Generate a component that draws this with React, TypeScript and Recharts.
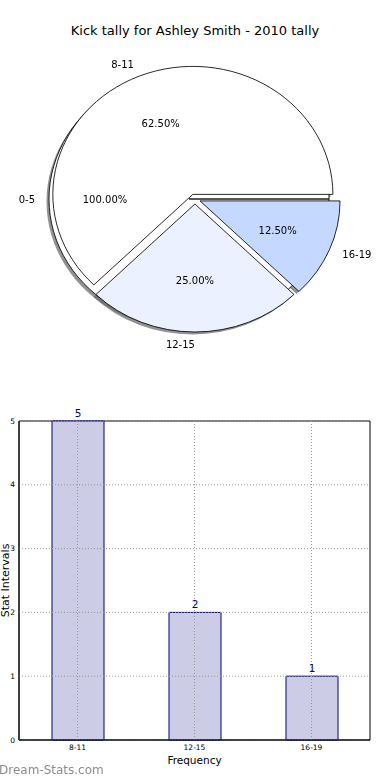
import {
  Bar,
  BarChart,
  Cell,
  LabelList,
  Pie,
  PieChart,
  ReferenceArea,
  ReferenceLine,
  XAxis,
  YAxis,
} from "recharts";

// pie: the three counted bands, plus the 0-5 band drawn as its own full pie
const pieBands = ["8-11", "12-15", "16-19"];
const pieCounts = [5, 2, 1];
const pieColors = ["#ffffff", "#ebf1fe", "#c5d8ff"];
const fullBand = ["0-5"];
const fullCounts = [1];

// bars
const barBands = ["8-11", "12-15", "16-19"];
const barCounts = [5, 2, 1];
const yTicks = [0, 1, 2, 3, 4, 5];

const SX = 1.094; // the pie in the source is a bit wider than tall
const PIE_R = 128;
const BASE_X = 178.2;
const BASE_Y = 199;
const EXPLODE = 5;
const SHADOW = 2.5;
const RAD = Math.PI / 180;

const pieData = pieBands.map((name, i) => ({ name, value: pieCounts[i] }));
const fullData = fullBand.map((name, i) => ({ name, value: fullCounts[i] }));
const barRows = barBands.map((band, i) => ({ band, count: barCounts[i] }));

const total = pieCounts.reduce((a, b) => a + b, 0);

const sliceCenter = (i: number) => {
  const before = pieCounts.slice(0, i).reduce((a, b) => a + b, 0);
  const mid = ((before + pieCounts[i] / 2) / total) * 360 * RAD;
  return {
    cx: BASE_X + EXPLODE * Math.cos(mid),
    cy: BASE_Y - EXPLODE * Math.sin(mid),
  };
};

const flat = (x: number) =>
  `translate(${x} 0) scale(${1 / SX} 1) translate(${-x} 0)`;

const sliceLabel = (only: number | null) => (p: any) => {
  if (only !== null && p.index !== only) return null;
  const a = -p.midAngle * RAD;
  const cos = Math.cos(a);
  const sin = Math.sin(a);
  const lx = p.cx + p.outerRadius * 1.1 * cos;
  const ly = p.cy + p.outerRadius * 1.1 * sin;
  const px = p.cx + p.outerRadius * 0.6 * cos;
  const py = p.cy + p.outerRadius * 0.6 * sin;
  return (
    <g key={`lbl-${p.index}`}>
      <text
        x={lx}
        y={ly}
        transform={flat(lx)}
        textAnchor={cos < 0 ? "end" : "start"}
        dominantBaseline="central"
        fontSize={10}
        fill="#000"
      >
        {p.name}
      </text>
      <text
        x={px}
        y={py}
        transform={flat(px)}
        textAnchor="middle"
        dominantBaseline="central"
        fontSize={10}
        fill="#000"
      >
        {(p.percent * 100).toFixed(2)}%
      </text>
    </g>
  );
};

const gridStyle = { stroke: "#999", strokeDasharray: "1 2", strokeWidth: 1 };

const App = () => {
  return (
    <div
      style={{
        position: "fixed",
        left: 0,
        top: 0,
        width: 390,
        height: 780,
        background: "#fff",
        fontFamily: "'DejaVu Sans', sans-serif",
      }}
    >
      <div
        style={{
          position: "absolute",
          top: 23,
          left: 0,
          width: 390,
          textAlign: "center",
          fontSize: 13,
          lineHeight: "15px",
        }}
      >
        Kick tally for Ashley Smith - 2010 tally
      </div>

      <div
        style={{
          position: "absolute",
          left: 0,
          top: 0,
          transform: `scaleX(${SX})`,
          transformOrigin: "0 0",
        }}
      >
        <PieChart
          width={357}
          height={360}
          margin={{ top: 0, right: 0, bottom: 0, left: 0 }}
        >
          {/* shadows */}
          <Pie
            data={fullData}
            dataKey="value"
            cx={172.8 - SHADOW / SX}
            cy={BASE_Y + SHADOW}
            outerRadius={PIE_R}
            stroke="none"
            fill="#6e6e6e"
            fillOpacity={0.75}
            isAnimationActive={false}
          />
          {pieBands.map((_, i) => {
            const c = sliceCenter(i);
            return (
              <Pie
                key={`sh-${i}`}
                data={pieData}
                dataKey="value"
                cx={c.cx - SHADOW / SX}
                cy={c.cy + SHADOW}
                outerRadius={PIE_R}
                isAnimationActive={false}
              >
                {pieData.map((_, j) => (
                  <Cell
                    key={j}
                    fill={j === i ? "#6e6e6e" : "none"}
                    fillOpacity={0.75}
                    stroke="none"
                  />
                ))}
              </Pie>
            );
          })}
          <Pie
            data={fullData}
            dataKey="value"
            cx={172.8}
            cy={BASE_Y}
            outerRadius={PIE_R}
            fill="#ffffff"
            stroke="#000"
            strokeWidth={0.8}
            label={sliceLabel(null)}
            labelLine={false}
            isAnimationActive={false}
          />
          {pieBands.map((_, i) => {
            const c = sliceCenter(i);
            return (
              <Pie
                key={`sl-${i}`}
                data={pieData}
                dataKey="value"
                cx={c.cx}
                cy={c.cy}
                outerRadius={PIE_R}
                label={sliceLabel(i)}
                labelLine={false}
                isAnimationActive={false}
              >
                {pieData.map((_, j) => (
                  <Cell
                    key={j}
                    fill={j === i ? pieColors[j] : "none"}
                    stroke={j === i ? "#000" : "none"}
                    strokeWidth={0.8}
                  />
                ))}
              </Pie>
            );
          })}
        </PieChart>
      </div>

      <div style={{ position: "absolute", left: 0, top: 400 }}>
        <BarChart
          width={390}
          height={380}
          data={barRows}
          margin={{ top: 21, right: 20, bottom: 12, left: 0 }}
        >
          <XAxis
            dataKey="band"
            interval={0}
            tick={{ fontSize: 7.5, fill: "#000" }}
            tickLine={false}
            tickSize={3}
            tickMargin={2}
            axisLine={{ stroke: "#000" }}
            height={28}
            label={{
              value: "Frequency",
              position: "insideBottom",
              offset: 4,
              fontSize: 10.5,
              fill: "#000",
            }}
          />
          <YAxis
            domain={[0, 5]}
            ticks={yTicks}
            width={19}
            tick={{ fontSize: 7.5, fill: "#000" }}
            tickLine={false}
            tickSize={3}
            tickMargin={1}
            axisLine={{ stroke: "#000" }}
            label={{
              value: "Stat Intervals",
              angle: -90,
              position: "insideLeft",
              offset: 5,
              fontSize: 11,
              fill: "#000",
              style: { textAnchor: "middle" },
            }}
          />
          <Bar
            dataKey="count"
            barSize={52}
            fill="#ccccE6"
            stroke="#000080"
            isAnimationActive={false}
          >
            <LabelList
              dataKey="count"
              position="top"
              offset={4}
              fontSize={10.5}
              fill="#000080"
            />
          </Bar>
          {yTicks.map((t) => (
            <ReferenceLine key={`gy-${t}`} y={t} {...gridStyle} />
          ))}
          {barBands.map((b) => (
            <ReferenceLine key={`gx-${b}`} x={b} {...gridStyle} />
          ))}
          <ReferenceArea
            y1={0}
            y2={5}
            fill="none"
            stroke="#000"
            strokeWidth={1}
            ifOverflow="visible"
          />
        </BarChart>
      </div>

      <div
        style={{
          position: "absolute",
          left: -1,
          top: 763,
          fontSize: 12,
          lineHeight: "14px",
          color: "#8c8c8c",
        }}
      >
        Dream-Stats.com
      </div>
    </div>
  );
};

export default App;
